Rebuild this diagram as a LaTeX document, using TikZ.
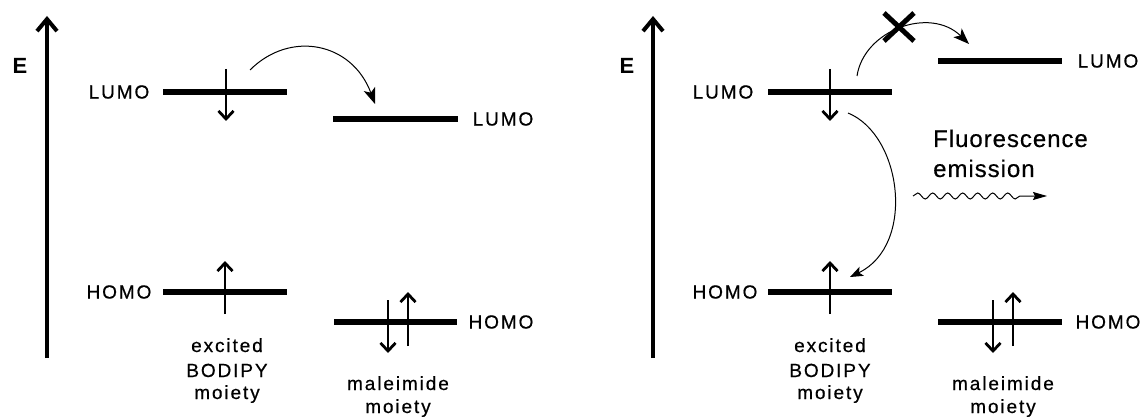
\documentclass[tikz,border=0pt]{standalone}
\usepackage{fontspec}
\setmainfont{Liberation Sans}
\newfontfamily\lblfont[LetterSpace=10,FakeBold=0.6]{Liberation Sans}
\newfontfamily\flfont[LetterSpace=4,FakeBold=0.4]{Liberation Sans}
\usetikzlibrary{arrows.meta,decorations.pathmorphing}
\tikzset{
  level/.style={line width=5.5pt},
  axis/.style={line width=4pt,-{Straight Barb[length=12pt,width=20pt]}},
  spin/.style={line width=2.8pt,-{Straight Barb[length=8pt,width=15pt]}},
  trans/.style={line width=1pt,-{Stealth[length=16pt,width=12pt,inset=4pt]}},
  orb/.style={font=\lblfont\fontsize{19}{24}\selectfont,inner sep=0pt},
  moi/.style={font=\lblfont\fontsize{19}{24}\selectfont,inner sep=0pt,anchor=base},
  elab/.style={font=\bfseries\fontsize{22}{24}\selectfont,inner sep=0pt},
  fl/.style={font=\flfont\fontsize{24}{30}\selectfont,inner sep=0pt,anchor=base west},
}
\begin{document}
\begin{tikzpicture}[x=1pt,y=-1pt]
\useasboundingbox (0,0) rectangle (1141,417);
% ---------------- left panel ----------------
\coordinate (axL0) at (47,358);
\coordinate (axL1) at (47,16);
\draw[axis] (axL0) -- (axL1);
\node[elab] (EL) at (20,66) {E};
% BODIPY LUMO
\node[orb] (lumoL) at (119,92) {LUMO};
\coordinate (bLa) at (163,92); \coordinate (bLb) at (287,92);
\draw[level] (bLa) -- (bLb);
\coordinate (sLa) at (226,69); \coordinate (sLb) at (226,121);
\draw[spin] (sLa) -- (sLb);
% maleimide LUMO
\coordinate (mLa) at (333,119); \coordinate (mLb) at (458,119);
\draw[level] (mLa) -- (mLb);
\node[orb] (lumoLm) at (503,119) {LUMO};
% transfer arrow
\coordinate (tLa) at (250,70); \coordinate (tLb) at (375,104);
\draw[trans] (tLa) .. controls (290,30) and (352,42) .. (tLb);
% BODIPY HOMO
\node[orb] (homoL) at (119,292) {HOMO};
\coordinate (bHa) at (163,292); \coordinate (bHb) at (287,292);
\draw[level] (bHa) -- (bHb);
\coordinate (uLa) at (225,314); \coordinate (uLb) at (225,261);
\draw[spin] (uLa) -- (uLb);
% maleimide HOMO
\coordinate (mHa) at (334,322); \coordinate (mHb) at (457,322);
\draw[level] (mHa) -- (mHb);
\node[orb] (homoLm) at (501,322) {HOMO};
\coordinate (dHa) at (388,300); \coordinate (dHb) at (388,353);
\draw[spin] (dHa) -- (dHb);
\coordinate (uHa) at (408,346); \coordinate (uHb) at (408,292);
\draw[spin] (uHa) -- (uHb);
% captions
\node[moi] (exL1) at (227,352) {excited};
\node[moi] (exL2) at (227,377) {BODIPY};
\node[moi] (exL3) at (227,399) {moiety};
\node[moi] (maL1) at (398,390) {maleimide};
\node[moi] (maL2) at (398,413) {moiety};
% ---------------- right panel ----------------
\coordinate (axR0) at (653,358);
\coordinate (axR1) at (653,16);
\draw[axis] (axR0) -- (axR1);
\node[elab] (ER) at (627,66) {E};
% BODIPY LUMO
\node[orb] (lumoR) at (723,92) {LUMO};
\coordinate (rLa) at (768,92); \coordinate (rLb) at (892,92);
\draw[level] (rLa) -- (rLb);
\coordinate (rsa) at (830,69); \coordinate (rsb) at (830,121);
\draw[spin] (rsa) -- (rsb);
% maleimide LUMO
\coordinate (rmLa) at (938,61); \coordinate (rmLb) at (1062,61);
\draw[level] (rmLa) -- (rmLb);
\node[orb] (lumoRm) at (1108,61) {LUMO};
% blocked transfer
\coordinate (tRa) at (857,76); \coordinate (tRb) at (969,44);
\draw[trans] (tRa) .. controls (864,30) and (930,6) .. (tRb);
\coordinate (xc) at (899,27);
\draw[line width=5pt] ([shift={(-15,-14)}]xc) -- ([shift={(15,14)}]xc)
                      ([shift={(-15,14)}]xc) -- ([shift={(15,-14)}]xc);
% relaxation arrow
\coordinate (rRa) at (848,113); \coordinate (rRb) at (850,277);
\draw[line width=1pt,-{Stealth[length=13pt,width=10pt,inset=3pt]}] (rRa) .. controls (902,135) and (916,245) .. (rRb);
% fluorescence
\node[fl] (fl1) at (933,147) {Fluorescence};
\node[fl] (fl2) at (933,177) {emission};
\coordinate (wa) at (913,196); \coordinate (wb) at (1047,196);
\draw[line width=1pt,-{Stealth[length=14pt,width=8pt,inset=2pt]},
  decorate,decoration={snake,amplitude=3pt,segment length=15pt,post length=24pt}] (wa) -- (wb);
% BODIPY HOMO
\node[orb] (homoR) at (725,292) {HOMO};
\coordinate (rHa) at (768,292); \coordinate (rHb) at (892,292);
\draw[level] (rHa) -- (rHb);
\coordinate (ruA) at (830,314); \coordinate (ruB) at (830,261);
\draw[spin] (ruA) -- (ruB);
% maleimide HOMO
\coordinate (rmHa) at (938,322); \coordinate (rmHb) at (1062,322);
\draw[level] (rmHa) -- (rmHb);
\node[orb] (homoRm) at (1108,322) {HOMO};
\coordinate (rdA) at (993,300); \coordinate (rdB) at (993,353);
\draw[spin] (rdA) -- (rdB);
\coordinate (ruC) at (1013,346); \coordinate (ruD) at (1013,292);
\draw[spin] (ruC) -- (ruD);
% captions
\node[moi] (exR1) at (830,352) {excited};
\node[moi] (exR2) at (830,377) {BODIPY};
\node[moi] (exR3) at (830,399) {moiety};
\node[moi] (maR1) at (1003,390) {maleimide};
\node[moi] (maR2) at (1003,413) {moiety};
\end{tikzpicture}
\end{document}
